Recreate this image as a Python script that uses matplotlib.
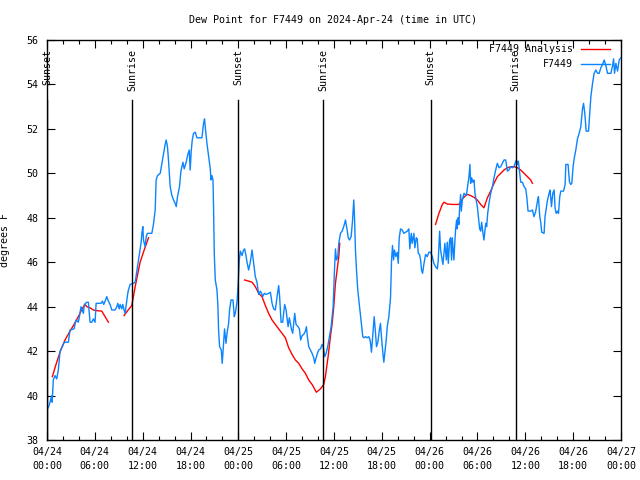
import matplotlib
matplotlib.use("Agg")
import matplotlib.pyplot as plt
from matplotlib.ticker import MultipleLocator, FixedLocator
import numpy as np

# ---- data (time in hours since 2024-04-24 00:00 UTC) ----
obs_hours = [0.16, 0.38, 0.59, 0.65, 0.79, 1.00, 1.22, 1.42, 1.63, 2.05, 2.17, 2.68, 2.89, 3.39, 3.64,
             3.93, 4.06, 4.27, 4.56, 4.69, 4.99, 5.19, 5.40, 5.62, 5.82, 6.03, 6.16, 6.44, 6.78, 6.95,
             7.12, 7.29, 7.50, 7.70, 7.91, 8.13, 8.54, 8.76, 8.88, 9.05, 9.17, 9.38, 9.51, 9.67, 9.80,
             10.09, 10.21, 10.43, 10.84, 11.06, 11.81, 11.90, 12.02, 12.10, 12.31, 12.44, 12.60, 13.15,
             13.35, 13.57, 13.69, 13.86, 14.20, 14.41, 14.61, 14.82, 14.95, 15.11, 15.24, 15.45, 15.67,
             15.87, 16.08, 16.21, 16.37, 16.62, 16.80, 17.05, 17.21, 17.46, 17.63, 17.84, 17.96, 18.09,
             18.22, 18.38, 18.59, 18.81, 19.43, 19.64, 19.76, 19.89, 20.06, 20.26, 20.48, 20.57, 20.69,
             20.82, 20.89, 20.98, 21.11, 21.32, 21.44, 21.52, 21.65, 21.86, 21.98, 22.15, 22.27, 22.45,
             22.58, 22.78, 22.90, 23.08, 23.33, 23.49, 23.62, 23.83, 23.96, 24.12, 24.25, 24.46, 24.66,
             24.79, 24.96, 25.09, 25.29, 25.50, 25.72, 25.92, 26.13, 26.34, 26.55, 26.76, 26.92, 27.05,
             27.26, 27.47, 27.80, 28.02, 28.23, 28.43, 28.64, 28.86, 29.06, 29.18, 29.36, 29.56, 29.81,
             29.99, 30.24, 30.40, 30.53, 30.65, 30.82, 30.94, 31.07, 31.24, 31.49, 31.66, 31.82, 32.00,
             32.20, 32.41, 32.54, 32.66, 32.83, 33.04, 33.25, 33.46, 33.58, 33.76, 33.92, 34.08, 34.30,
             34.51, 34.64, 34.84, 35.01, 35.21, 35.43, 35.64, 35.89, 36.06, 36.18, 36.31, 36.47, 36.60,
             36.81, 37.02, 37.22, 37.44, 37.65, 37.78, 37.94, 38.15, 38.32, 38.40, 38.48, 38.57, 38.69,
             38.82, 38.98, 39.20, 39.41, 39.61, 39.74, 39.95, 40.16, 40.36, 40.49, 40.58, 40.70, 40.92,
             41.04, 41.21, 41.33, 41.50, 41.67, 41.83, 41.96, 42.12, 42.25, 42.37, 42.55, 42.68, 42.88,
             43.09, 43.22, 43.34, 43.47, 43.59, 43.76, 43.93, 44.06, 44.18, 44.35, 44.56, 44.76, 44.97,
             45.19, 45.39, 45.51, 45.69, 45.81, 46.02, 46.14, 46.32, 46.44, 46.57, 46.73, 46.86, 46.98,
             47.11, 47.27, 47.49, 47.70, 47.90, 48.12, 48.33, 48.53, 48.74, 48.96, 49.08, 49.25, 49.37,
             49.66, 49.79, 49.91, 50.09, 50.21, 50.34, 50.50, 50.63, 50.75, 50.84, 51.04, 51.17, 51.26,
             51.38, 51.47, 51.54, 51.67, 51.76, 51.88, 51.97, 52.10, 52.30, 52.60, 52.76, 52.93, 53.05,
             53.14, 53.27, 53.43, 53.56, 53.68, 53.86, 53.98, 54.11, 54.27, 54.40, 54.52, 54.69, 54.81,
             54.94, 55.03, 55.15, 55.28, 55.44, 55.65, 55.87, 56.07, 56.28, 56.49, 56.70, 56.91, 57.12,
             57.32, 57.54, 57.66, 57.75, 57.95, 58.17, 58.38, 58.58, 58.71, 58.88, 59.01, 59.13, 59.30,
             59.42, 59.64, 59.84, 60.05, 60.18, 60.34, 60.68, 60.89, 61.09, 61.31, 61.52, 61.64, 61.81,
             61.93, 62.06, 62.35, 62.47, 62.65, 62.78, 62.98, 63.10, 63.28, 63.44, 63.61, 63.73, 63.86,
             64.03, 64.16, 64.32, 64.45, 64.79, 64.99, 65.08, 65.36, 65.54, 65.70, 65.83, 65.99, 66.12,
             66.33, 66.54, 66.75, 66.96, 67.17, 67.30, 67.46, 67.63, 67.93, 68.05, 68.22, 68.43, 68.63,
             68.84, 69.06, 69.26, 69.47, 69.69, 69.89, 70.10, 70.31, 70.73, 70.94, 71.07, 71.19, 71.36,
             71.57, 71.77, 71.98]
obs_dewpt = [39.45, 39.7, 40.0, 39.7, 40.7, 40.9, 40.75, 41.15, 41.97, 42.3, 42.4, 42.4, 42.95, 43.0, 43.4,
             43.3, 43.55, 44.0, 43.7, 44.1, 44.2, 44.2, 43.3, 43.3, 43.45, 43.3, 44.15, 44.15, 44.15, 44.25,
             44.1, 44.25, 44.45, 44.25, 44.1, 43.85, 43.85, 44.0, 44.15, 43.9, 44.1, 43.9, 44.1, 43.85, 43.7,
             44.5, 44.75, 45.0, 45.05, 45.1, 46.9, 47.3, 47.6, 47.0, 46.7, 47.15, 47.3, 47.3,
             47.7, 48.35, 49.7, 49.9, 50.0, 50.45, 50.9, 51.3, 51.5, 51.2, 50.6, 49.4, 49.0,
             48.8, 48.65, 48.5, 48.95, 49.4, 50.1, 50.5, 50.2, 50.5, 50.8, 51.05, 50.15, 51.0,
             51.5, 51.8, 51.85, 51.6, 51.6, 52.25, 52.45, 51.95, 51.35, 50.8, 50.2, 49.7, 49.9,
             49.7, 48.5, 46.4, 45.2, 44.75, 44.0, 42.95, 42.2, 42.05, 41.45, 42.35, 43.0, 42.35,
             42.8, 43.25, 43.85, 44.3, 44.3, 43.55, 43.7, 44.2, 44.9, 46.1, 46.5, 46.3, 46.55,
             46.6, 46.3, 46.0, 45.65, 46.0, 46.55, 45.95, 45.35, 45.1, 44.55, 44.7, 44.6, 44.45,
             44.6, 44.55, 44.6, 44.65, 44.15, 43.9, 43.85, 44.45, 44.95, 44.45, 43.3, 43.3, 44.1,
             43.85, 43.1, 43.5, 43.25, 43.0, 42.8, 43.25, 43.7, 43.2, 43.1, 43.0, 42.5, 42.7,
             42.75, 42.9, 43.1, 42.65, 42.2, 42.05, 41.9, 41.7, 41.45, 41.7, 41.9, 42.05, 42.1,
             42.3, 42.2, 41.75, 41.9, 42.2, 42.65, 43.1, 44.0, 45.65, 46.6, 46.1, 46.25, 46.85,
             47.3, 47.4, 47.6, 47.9, 47.45, 47.1, 47.0, 47.15, 47.85, 48.35, 48.8, 48.05, 46.55,
             45.65, 44.75, 44.0, 43.25, 42.65, 42.6, 42.65, 42.6, 42.65, 42.55, 42.35, 41.95, 42.95,
             43.55, 42.8, 42.2, 42.4, 42.9, 43.25, 42.6, 41.95, 41.5, 41.9, 42.5, 43.1, 43.55,
             44.4, 46.1, 46.75, 46.1, 46.55, 46.25, 46.45, 45.95, 47.1, 47.5, 47.45, 47.3, 47.35,
             47.4, 47.5, 46.6, 47.3, 46.85, 47.3, 46.65, 47.1, 47.05, 46.4, 46.35, 46.1, 45.65,
             45.5, 45.9, 46.35, 46.25, 46.45, 46.45, 46.25, 45.95, 45.8, 45.7, 46.1, 47.4, 46.55,
             45.9, 46.4, 46.85, 46.1, 46.9, 45.95, 47.0, 47.1, 46.1, 47.1, 46.1, 47.0, 47.5,
             47.9, 47.5, 48.0, 47.7, 48.45, 49.05, 48.3, 48.8, 49.1, 49.0, 49.4, 49.85, 50.4,
             49.55, 49.8, 49.6, 49.7, 49.1, 48.75, 48.5, 48.05, 47.5, 47.4, 47.8, 47.3, 47.0,
             47.45, 47.75, 47.6, 48.2, 48.65, 49.1, 49.4, 49.8, 50.15, 50.45, 50.25, 50.3, 50.45,
             50.6, 50.6, 50.3, 50.1, 50.15, 50.3, 50.25, 50.3, 50.45, 50.6, 50.4, 50.55, 50.0,
             49.6, 49.6, 49.4, 49.3, 48.95, 48.3, 48.3, 48.35, 48.05, 48.3, 48.75, 48.95, 48.05,
             47.8, 47.35, 47.3, 48.05, 48.5, 48.8, 49.1, 49.25, 48.5, 49.1, 49.25, 48.45, 48.2,
             48.3, 48.2, 48.95, 49.2, 49.2, 49.5, 50.4, 50.4, 49.6, 49.5, 49.55, 50.3, 50.65,
             51.05, 51.55, 51.8, 52.1, 52.9, 53.15, 52.7, 51.9, 51.9, 52.55, 53.45, 54.05, 54.5,
             54.65, 54.5, 54.5, 54.75, 54.9, 55.1, 54.85, 54.5, 54.5, 54.85, 55.15, 54.5, 54.95,
             54.6, 55.1, 55.2]

ana1_hours = [0.67, 1.13, 1.72, 2.26, 2.89, 3.39, 3.93, 4.40, 4.77, 4.99, 5.40, 5.82, 6.28, 6.87, 7.29, 7.70]
ana1_dewpt = [40.85, 41.4, 42.05, 42.5, 42.9, 43.2, 43.55, 43.9, 44.1, 44.0, 43.95, 43.85, 43.82, 43.8, 43.55, 43.3]
ana2_hours = [9.67, 10.18, 10.64, 11.06, 11.68, 12.19, 12.73]
ana2_dewpt = [43.6, 43.85, 44.05, 44.9, 46.0, 46.55, 47.1]
ana3_hours = [24.79, 25.29, 25.72, 26.13, 26.55, 26.97, 27.39, 27.80, 28.23, 28.64, 29.06, 29.48, 29.90,
              30.31, 30.74, 31.16, 31.57, 32.00, 32.41, 32.83, 33.25, 33.79, 34.30, 34.71, 34.92, 35.26,
              35.55, 35.77, 35.97, 36.18, 36.39, 36.60, 36.72]
ana3_dewpt = [45.2, 45.15, 45.1, 44.9, 44.6, 44.45, 44.05, 43.7, 43.4, 43.2, 43.0, 42.8, 42.6,
              42.15, 41.85, 41.6, 41.45, 41.2, 41.0, 40.7, 40.5, 40.15, 40.3, 40.5, 40.85, 41.75,
              42.65, 43.25, 44.0, 45.05, 45.65, 46.25, 46.85]
ana4_hours = [48.74, 49.16, 49.59, 49.79, 50.21, 50.88, 51.67, 52.10, 52.51, 52.73, 53.14, 53.56, 53.98,
              54.40, 54.81, 55.24, 55.65, 56.07, 56.49, 56.91, 57.32, 57.75, 58.17, 58.58, 59.01, 59.42,
              59.84, 60.26, 60.68, 60.89]
ana4_dewpt = [47.7, 48.2, 48.6, 48.7, 48.62, 48.6, 48.6, 48.85, 49.0, 49.05, 49.0, 48.92, 48.8,
              48.6, 48.45, 48.9, 49.2, 49.55, 49.85, 50.0, 50.15, 50.25, 50.3, 50.3, 50.25, 50.15,
              50.0, 49.85, 49.7, 49.55]

sun_hours = [0.05, 10.68, 23.99, 34.67, 48.12, 58.79]
sun_labels = ["Sunset", "Sunrise", "Sunset", "Sunrise", "Sunset", "Sunrise"]

xtick_hours = [0, 6, 12, 18, 24, 30, 36, 42, 48, 54, 60, 66, 72]
xtick_labels = ["04/24\n00:00", "04/24\n06:00", "04/24\n12:00", "04/24\n18:00",
                "04/25\n00:00", "04/25\n06:00", "04/25\n12:00", "04/25\n18:00",
                "04/26\n00:00", "04/26\n06:00", "04/26\n12:00", "04/26\n18:00",
                "04/27\n00:00"]

plt.rcParams['font.family'] = ['DejaVu Sans Mono']
FS = 7.2
plt.rcParams['font.size'] = FS

fig = plt.figure(figsize=(6.4, 4.8), dpi=100)
ax = fig.add_axes([47/640, 40/480, (621-47)/640, 400/480])

BLUE = '#0a84ff'
for h, v in [(ana1_hours, ana1_dewpt), (ana2_hours, ana2_dewpt),
             (ana3_hours, ana3_dewpt), (ana4_hours, ana4_dewpt)]:
    ax.plot(h, v, color='red', lw=1.0, zorder=2)
ax.plot(obs_hours, obs_dewpt, color=BLUE, lw=1.0, zorder=3)

ax.set_xlim(0, 72)
ax.set_ylim(38, 56)

for h, lab in zip(sun_hours, sun_labels):
    ax.plot([h, h], [38, 53.3], color='black', lw=1.0, zorder=4)
    ax.text(h, 55.6, lab, rotation=90, ha='center', va='top', fontsize=FS, zorder=5)

# legend (manual, gnuplot style)
ax.text(0.917, 0.977, "F7449 Analysis", transform=ax.transAxes, ha='right', va='center', fontsize=FS)
ax.text(0.917, 0.94, "F7449", transform=ax.transAxes, ha='right', va='center', fontsize=FS)
ax.plot([0.93, 0.98], [0.977, 0.977], transform=ax.transAxes, color='red', lw=1.0)
ax.plot([0.93, 0.98], [0.94, 0.94], transform=ax.transAxes, color=BLUE, lw=1.0)

ax.xaxis.set_major_locator(FixedLocator(xtick_hours))
ax.set_xticklabels(xtick_labels)
for lab in ax.get_xticklabels():
    lab.set_linespacing(1.55)
ax.xaxis.set_minor_locator(MultipleLocator(2))
ax.yaxis.set_major_locator(MultipleLocator(2))
ax.tick_params(which='both', direction='in', top=True, right=True, width=0.8, color='black')
ax.tick_params(which='major', length=6)
ax.tick_params(which='minor', length=3)
ax.tick_params(axis='x', pad=5)
ax.tick_params(axis='y', pad=6)
for s in ax.spines.values():
    s.set_linewidth(1.0)

ax.set_ylabel("degrees F")
ax.yaxis.set_label_coords(-37/574, 0.5)
fig.text(333/640, 1 - 20/480, "Dew Point for F7449 on 2024-Apr-24 (time in UTC)",
         ha='center', va='center', fontsize=FS)

fig.savefig("out.png", dpi=100)
